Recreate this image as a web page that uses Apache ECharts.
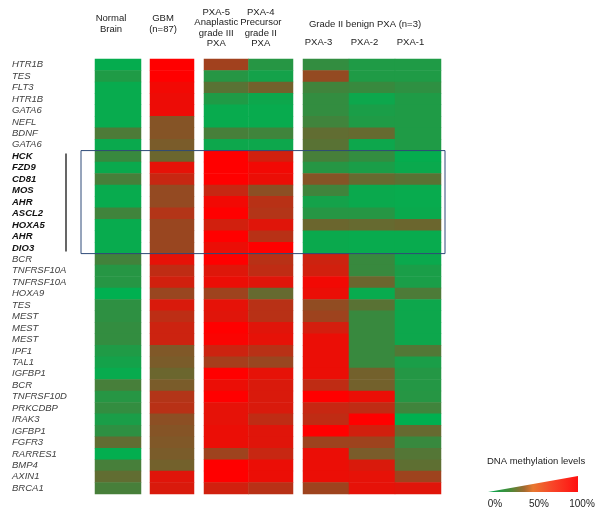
<!DOCTYPE html>
<html><head><meta charset="utf-8">
<script src="https://cdn.jsdelivr.net/npm/echarts@6/dist/echarts.min.js"></script>
<style>html,body{margin:0;padding:0;background:#fff}#c{width:600px;height:525px}</style>
</head><body><div id="c"></div><script>
const genes = ['HTR1B','TES','FLT3','HTR1B','GATA6','NEFL','BDNF','GATA6','HCK','FZD9','CD81','MOS','AHR','ASCL2','HOXA5','AHR','DIO3','BCR','TNFRSF10A','TNFRSF10A','HOXA9','TES','MEST','MEST','MEST','IPF1','TAL1','IGFBP1','BCR','TNFRSF10D','PRKCDBP','IRAK3','IGFBP1','FGFR3','RARRES1','BMP4','AXIN1','BRCA1'];
const boldFrom = 8, boldTo = 16;
const headNormal = ['Normal\nBrain'];
const headGBM = ['GBM\n(n=87)'];
const headHigh = ['PXA-5\nAnaplastic\ngrade III\nPXA', 'PXA-4\nPrecursor\ngrade II\nPXA'];
const headLow = ['PXA-3', 'PXA-2', 'PXA-1'];
const groupLow = 'Grade II benign PXA (n=3)';
const legendTitle = 'DNA methylation levels';
const legendTicks = ['0%', '50%', '100%'];

// methylation level (%) per row, top to bottom
const normalBrain = [2,12,3,3,3,3,30,4,22,4,28,3,3,25,3,3,3,26,15,15,0,18,18,20,20,12,8,3,28,15,20,10,18,38,1,28,38,28];
const gbm        = [100,100,95,93,93,52,52,48,42,90,78,58,58,70,60,60,60,90,75,82,60,85,74,80,80,50,48,42,48,70,72,55,52,50,48,45,88,85];
const pxa5       = [63,15,35,12,3,3,28,5,100,100,100,78,95,100,82,100,92,100,87,92,62,90,88,100,98,80,65,100,92,100,90,90,92,92,62,100,100,82];
const pxa4       = [15,8,45,5,3,3,25,5,82,95,92,55,72,70,88,72,100,72,75,88,40,72,72,88,90,72,60,90,85,85,85,75,88,88,78,92,92,72];
const pxa3       = [20,58,25,20,20,25,38,35,28,15,52,25,8,15,42,4,4,80,82,95,92,57,62,83,92,92,92,92,75,100,78,75,100,62,92,92,92,62];
const pxa2       = [12,12,22,5,10,12,40,5,20,10,40,4,4,15,40,3,3,22,22,42,3,35,22,22,22,22,22,45,45,92,75,100,82,62,48,85,90,90];
const pxa1       = [12,12,18,12,12,12,12,12,2,4,35,3,3,4,42,3,3,4,10,10,30,5,5,5,5,32,10,14,14,15,25,0,40,22,33,37,62,88];

const FONT = 'Liberation Sans, Arial, sans-serif';
const groups = [
  {cols:[normalBrain], heads:headNormal, left:95, width:46},
  {cols:[gbm], heads:headGBM, left:150, width:44},
  {cols:[pxa5, pxa4], heads:headHigh, left:204, width:89},
  {cols:[pxa3, pxa2, pxa1], heads:headLow, left:303, width:138}
];
const TOP = 59, H = 435;

const chart = echarts.init(document.getElementById('c'), null, {renderer:'canvas'});
const grid = [], xAxis = [], yAxis = [], series = [];
const xLabelCfg = [
  {margin:24, lineHeight:11, pad:14},
  {margin:24, lineHeight:11, pad:18},
  {margin:10, lineHeight:10.5, pad:20},
  {margin:11, lineHeight:11, pad:15}
];
groups.forEach((g, gi) => {
  grid.push({left:g.left, top:TOP, width:g.width, height:H});
  const xa = {
    gridIndex:gi, type:'category', position:'top', data:g.heads,
    axisLine:{show:false}, axisTick:{show:false}, splitLine:{show:false},
    axisLabel:{interval:0, margin:xLabelCfg[gi].margin, lineHeight:xLabelCfg[gi].lineHeight,
      fontSize:9.5, color:'#222', fontFamily:FONT, padding:[0, xLabelCfg[gi].pad, 0, 0]}
  };
  if (gi === 3) {
    xa.name = groupLow; xa.nameLocation = 'middle'; xa.nameGap = 35;
    xa.nameTextStyle = {fontSize:9.5, color:'#222', fontFamily:FONT, padding:[0,14,0,0], verticalAlign:'middle'};
  }
  xAxis.push(xa);
  yAxis.push({
    gridIndex:gi, type:'category', data:genes, inverse:true,
    axisLine:{show:false}, axisTick:{show:false}, splitLine:{show:false},
    axisLabel: gi === 0 ? {
      show:true, interval:0, align:'left', margin:83, fontSize:9.5, fontStyle:'italic',
      color:'#404040', fontFamily:FONT,
      formatter:(v, i) => (i >= boldFrom && i <= boldTo) ? '{b|' + v + '}' : v,
      rich:{b:{fontWeight:'bold', fontStyle:'italic', color:'#111', fontSize:9.5, fontFamily:FONT}}
    } : {show:false}
  });
  const data = [];
  g.cols.forEach((col, ci) => col.forEach((v, ri) => data.push([ci, ri, v])));
  series.push({type:'heatmap', xAxisIndex:gi, yAxisIndex:gi, data:data, progressive:0,
    emphasis:{disabled:true}, itemStyle:{borderWidth:0}});
});

chart.setOption({
  animation:false,
  textStyle:{fontFamily:FONT},
  grid, xAxis, yAxis, series,
  visualMap:{show:false, min:0, max:100, seriesIndex:[0,1,2,3], inRange:{color:['#00B050','#FF0000']}}
});

const band = H / genes.length;
const p0 = chart.convertToPixel({gridIndex:0}, [0, boldFrom]);
const p1 = chart.convertToPixel({gridIndex:0}, [0, boldTo]);
const boxTop = p0[1] - band/2, boxBot = p1[1] + band/2;
const rightEdge = groups[3].left + groups[3].width;

chart.setOption({
  graphic:[
    {type:'rect', shape:{x:81, y:boxTop, width:rightEdge + 4 - 81, height:boxBot - boxTop},
      style:{fill:'none', stroke:'#2E4A78', lineWidth:1}, z:10},
    {type:'line', shape:{x1:66, y1:boxTop + 3, x2:66, y2:boxBot - 2},
      style:{stroke:'#000', lineWidth:1.2}, z:10},
    {type:'text', left:487, top:456, style:{text:legendTitle, fontSize:9.5, fill:'#222', font:'9.5px ' + FONT}},
    {type:'polygon', shape:{points:[[488,492],[578,476],[578,492]]},
      style:{fill:new echarts.graphic.LinearGradient(0,0,1,0,[
        {offset:0, color:'#00A850'},{offset:0.25, color:'#4A8A38'},{offset:0.4, color:'#A06A30'},
        {offset:0.5, color:'#E87830'},{offset:0.72, color:'#F84428'},{offset:1, color:'#FF1010'}])}},
    {type:'text', x:495, y:504, style:{text:legendTicks[0], font:'10px ' + FONT, fill:'#222', align:'center', verticalAlign:'middle'}},
    {type:'text', x:539, y:504, style:{text:legendTicks[1], font:'10px ' + FONT, fill:'#222', align:'center', verticalAlign:'middle'}},
    {type:'text', x:582, y:504, style:{text:legendTicks[2], font:'10px ' + FONT, fill:'#222', align:'center', verticalAlign:'middle'}}
  ]
});
</script></body></html>
